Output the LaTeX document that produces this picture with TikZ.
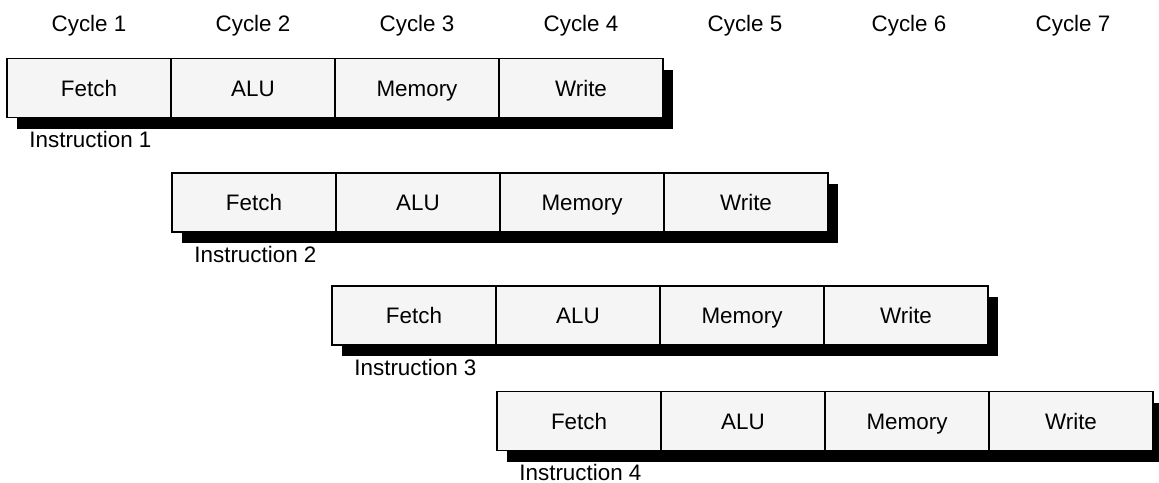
\documentclass[tikz,border=0pt]{standalone}
\usepackage{fontspec}
\setmainfont{Liberation Sans}
\usetikzlibrary{shadows}

\definecolor{cellgray}{RGB}{245,245,245}

\tikzset{
  stage/.style={draw=black, line width=0.7pt, fill=cellgray,
    minimum width=82pt, minimum height=29.5pt, inner sep=0pt, outer sep=0pt,
    text height=8pt, text depth=0pt,
    drop shadow={shadow xshift=5pt, shadow yshift=-5.5pt, fill=black, opacity=1}},
  instr/.style={inner sep=0pt, anchor=west, text height=8pt, text depth=0pt},
  cyc/.style={inner sep=0pt, text height=8pt, text depth=0pt}
}

\begin{document}
\begin{tikzpicture}[x=0.5pt, y=-0.5pt, font=\fontsize{11.2}{13.4}\selectfont]
    \useasboundingbox (0,0) rectangle (1159,482);

    % cycle headings
    \foreach \c in {1,...,7}
        \node[cyc] (cycle\c) at (7+164*\c-82, 23) {Cycle \c};

    % pipeline rows: row / left edge / centre height
    \foreach \row/\lx/\cy in {1/7/88, 2/172/202.5, 3/332/315.5, 4/497/421} {
        \foreach \st [count=\i from 0] in {Fetch,ALU,Memory,Write}
            \node[stage] (s\row-\i) at (\lx+164*\i+82, \cy) {\st};
        % instruction label under the row
        \node[instr] (instr\row) at ([xshift=11pt, yshift=-11pt]s\row-0.south west) {Instruction \row};
    }

\end{tikzpicture}
\end{document}
